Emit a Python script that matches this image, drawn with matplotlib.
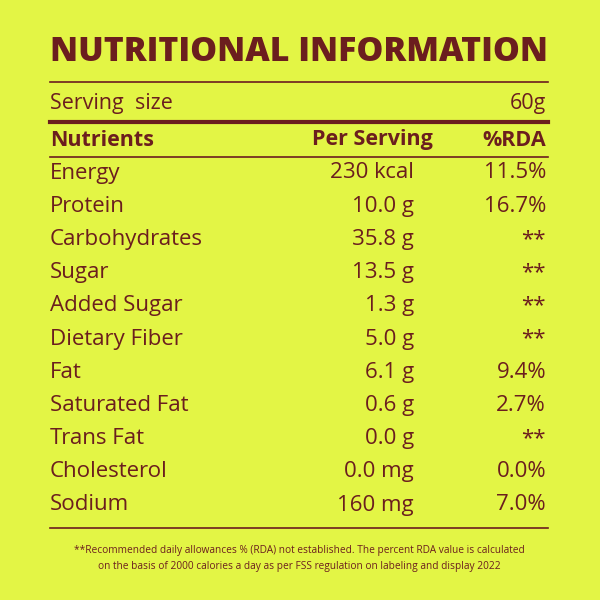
import matplotlib
matplotlib.use("Agg")
import matplotlib.pyplot as plt

nutrients = ["Energy", "Protein", "Carbohydrates", "Sugar", "Added Sugar", "Dietary Fiber",
             "Fat", "Saturated Fat", "Trans Fat", "Cholesterol", "Sodium"]
per_serving = ["230 kcal", "10.0 g", "35.8 g", "13.5 g", "1.3 g", "5.0 g",
               "6.1 g", "0.6 g", "0.0 g", "0.0 mg", "160 mg"]
rda = ["11.5%", "16.7%", "**", "**", "**", "**", "9.4%", "2.7%", "**", "0.0%", "7.0%"]

BG = "#E3F545"
FG = "#6B1E1E"
FONT = "Open Sans"

fig = plt.figure(figsize=(6, 6), dpi=100, facecolor=BG)
ax = fig.add_axes([0, 0, 1, 1])
ax.set_xlim(0, 600)
ax.set_ylim(600, 0)
ax.axis("off")
ax.set_facecolor(BG)

ax.text(299, 52, "NUTRITIONAL INFORMATION", ha="center", va="center", fontsize=24.3,
        fontweight="heavy", color=FG, family=FONT)
ax.plot([50, 548], [82, 82], color=FG, lw=1.2)
ax.text(50, 104, "Serving  size", ha="left", va="center", fontsize=15.5, color=FG, family=FONT)
ax.text(546, 104, "60g", ha="right", va="center", fontsize=15.5, color=FG, family=FONT)
ax.plot([50, 548], [122, 122], color=FG, lw=3)
ax.text(50, 140, "Nutrients", ha="left", va="center", fontsize=15.5, fontweight="bold", color=FG, family=FONT)
ax.text(433, 140, "Per Serving", ha="right", va="center", fontsize=15.5, fontweight="bold", color=FG, family=FONT)
ax.text(546, 140, "%RDA", ha="right", va="center", fontsize=15.5, fontweight="bold", color=FG, family=FONT)
ax.plot([50, 548], [157, 157], color=FG, lw=1.2)

y0, dy = 173, 33.2
for i, (n, p, r) in enumerate(zip(nutrients, per_serving, rda)):
    y = y0 + i * dy
    ax.text(50, y, n, ha="left", va="center", fontsize=16, color=FG, family=FONT)
    ax.text(414, y, p, ha="right", va="center", fontsize=16, color=FG, family=FONT)
    ax.text(546, y, r, ha="right", va="center", fontsize=16, color=FG, family=FONT)

ax.plot([50, 548], [528, 528], color=FG, lw=1.2)
ax.text(299, 550, "**Recommended daily allowances % (RDA) not established. The percent RDA value is calculated",
        ha="center", va="center", fontsize=7.3, color=FG, family=FONT)
ax.text(299, 566, "on the basis of 2000 calories a day as per FSS regulation on labeling and display 2022",
        ha="center", va="center", fontsize=7.3, color=FG, family=FONT)

fig.savefig("out.png", dpi=100, facecolor=BG)
